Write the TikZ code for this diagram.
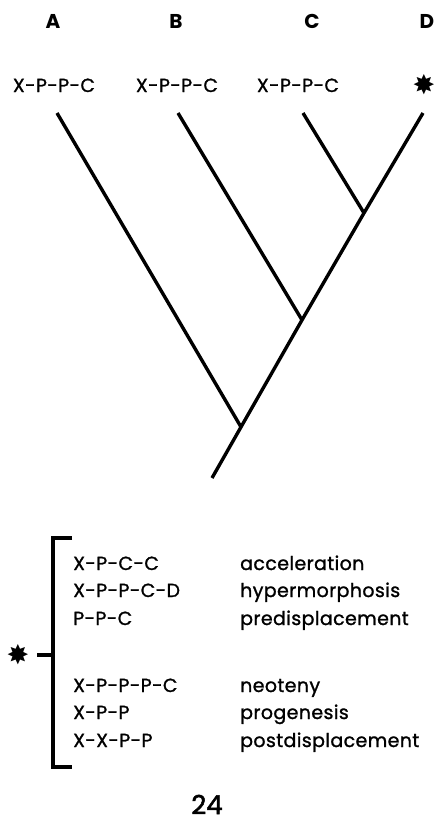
\documentclass[tikz,border=0pt]{standalone}
\usepackage{fontspec}
\setmainfont{Poppins}
\newfontfamily\spaced[LetterSpace=2,FakeBold=1.2]{Poppins}
\newfontfamily\heavy[FakeBold=2]{Poppins}
\newfontfamily\symfont{DejaVu Sans}
\begin{document}
\begin{tikzpicture}[x=1pt,y=-1pt,
  branch/.style={line width=3.4pt,line cap=butt},
  seq/.style={font=\spaced\fontsize{19}{20}\selectfont,inner sep=0pt},
  term/.style={font=\spaced\fontsize{19}{20}\selectfont,inner sep=0pt,anchor=base west},
  taxon/.style={font=\bfseries\fontsize{20}{22}\selectfont,inner sep=0pt,anchor=base},
  star/.style={font=\symfont\fontsize{27}{28}\selectfont,inner sep=0pt}]
\useasboundingbox (0,0) rectangle (437,825);
% taxa
\node[taxon] (lA) at (53,28) {A};
\node[taxon] (lB) at (176,28) {B};
\node[taxon] (lC) at (312,28) {C};
\node[taxon] (lD) at (427,28) {D};
\node[seq,anchor=base] (sA) at (54,92) {X-P-P-C};
\node[seq,anchor=base] (sB) at (177,92) {X-P-P-C};
\node[seq,anchor=base] (sC) at (298,92) {X-P-P-C};
\node[star] (sD) at (424,85) {✸};
% tree
\coordinate (tA) at (57,113);
\coordinate (tB) at (178,113);
\coordinate (tC) at (303,113);
\coordinate (tD) at (423,113);
\coordinate (root) at (212,478);
\coordinate (jA) at (241,427);
\coordinate (jB) at (302,320);
\coordinate (jC) at (364,213);
\draw[branch] (tA) -- (jA);
\draw[branch] (tB) -- (jB);
\draw[branch] (tC) -- (jC);
\draw[branch] (root) -- (jA) -- (jB) -- (jC) -- (tD);
% bracket
\coordinate (b1) at (72,538);
\coordinate (b2) at (53,538);
\coordinate (b3) at (53,767);
\coordinate (b4) at (72,767);
\coordinate (s1) at (53,655);
\coordinate (s0) at (37,655);
\draw[branch,line join=miter] (b1) -- (b2) -- (b3) -- (b4);
\draw[branch] (s0) -- (s1);
\node[star] (bs) at (18,655) {✸};
% list
\node[term] (r1) at (73,570) {X-P-C-C};
\node[term] (r2) at (73,597) {X-P-P-C-D};
\node[term] (r3) at (73,625) {P-P-C};
\node[term] (r4) at (73,692) {X-P-P-P-C};
\node[term] (r5) at (73,719) {X-P-P};
\node[term] (r6) at (73,747) {X-X-P-P};
\node[term] (n1) at (240,570) {acceleration};
\node[term] (n2) at (240,597) {hypermorphosis};
\node[term] (n3) at (240,625) {predisplacement};
\node[term] (n4) at (240,692) {neoteny};
\node[term] (n5) at (240,719) {progenesis};
\node[term] (n6) at (240,747) {postdisplacement};
% page number
\node[font=\heavy\fontsize{26}{28}\selectfont,inner sep=0pt,anchor=base] (pg) at (207,814) {24};
\end{tikzpicture}
\end{document}
